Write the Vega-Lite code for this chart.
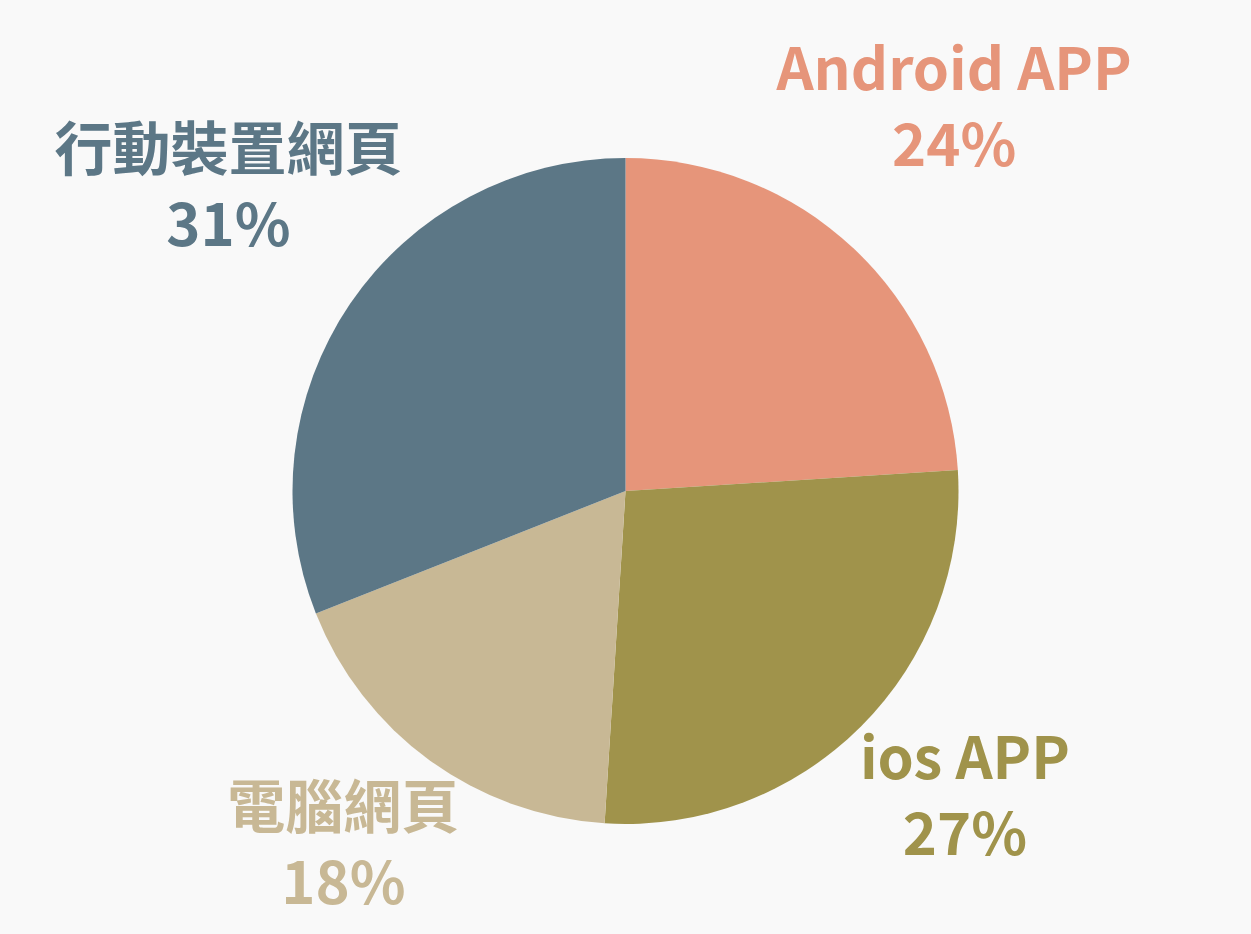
{
  "$schema": "https://vega.github.io/schema/vega-lite/v6.json",
  "width": 1251,
  "height": 934,
  "autosize": {"type": "fit", "contains": "padding"},
  "padding": {"top": 48, "left": 0, "right": 0, "bottom": 0},
  "background": "#F9F9F9",
  "config": {"view": {"stroke": null}},
  "data": {
    "values": [
      {"category": "Android APP", "share": 0.24, "rank": 1},
      {"category": "ios APP", "share": 0.27, "rank": 2},
      {"category": "電腦網頁", "share": 0.18, "rank": 3},
      {"category": "行動裝置網頁", "share": 0.31, "rank": 4}
    ]
  },
  "encoding": {
    "theta": {"field": "share", "type": "quantitative", "stack": true},
    "order": {"field": "rank", "type": "quantitative"},
    "color": {
      "field": "category",
      "type": "nominal",
      "scale": {
        "domain": ["Android APP", "ios APP", "電腦網頁", "行動裝置網頁"],
        "range": ["#E6957A", "#A0934B", "#C8B895", "#5C7786"]
      },
      "legend": null
    }
  },
  "layer": [
    {"mark": {"type": "arc", "outerRadius": 333}},
    {
      "transform": [{"calculate": "[datum.category, format(datum.share, '.0%')]", "as": "label"}],
      "mark": {"type": "text", "radius": 480, "dy": -68, "lineHeight": 76, "baseline": "middle", "font": "Noto Sans CJK TC", "fontWeight": "bold", "fontSize": 58},
      "encoding": {"text": {"field": "label", "type": "nominal"}}
    }
  ]
}
